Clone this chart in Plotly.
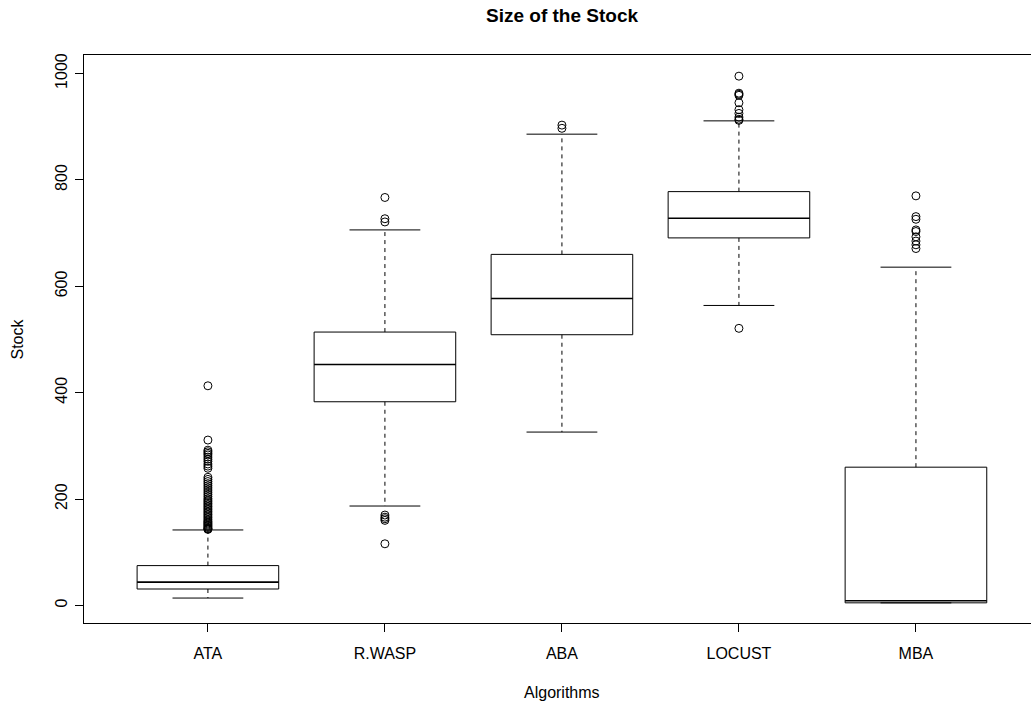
import plotly.graph_objects as go

# Summary statistics per algorithm (Tukey boxplot)
algorithms = ["ATA", "R.WASP", "ABA", "LOCUST", "MBA"]
lower_whisker = [14, 187, 326, 564, 5]
q1 = [31, 383, 509, 691, 5]
median = [44, 453, 577, 728, 9]
q3 = [75, 514, 660, 778, 260]
upper_whisker = [142, 706, 886, 911, 636]

outliers_ata = [413, 311, 292, 289, 286, 283, 279, 275, 271, 266, 262, 258,
                241, 237, 233, 229, 225, 221, 217, 213, 209, 205, 201, 198,
                195, 192, 189, 186, 183, 180, 177, 174, 171, 168, 165, 162,
                159, 157, 155, 153, 151, 149, 147, 145, 144, 143]
outliers_rwasp = [767, 727, 721, 170, 166, 163, 160, 116]
outliers_aba = [903, 897]
outliers_locust = [995, 963, 961, 959, 945, 932, 925, 918, 914, 912, 521]
outliers_mba = [770, 731, 726, 706, 703, 693, 685, 678, 671]
outliers = [outliers_ata, outliers_rwasp, outliers_aba, outliers_locust, outliers_mba]

y_ticks = [0, 200, 400, 600, 800, 1000]

BOX_HALF = 0.4      # boxwex 0.8
STAPLE_HALF = 0.2   # staples half as wide as the box
LINE = dict(color="black", width=1)

fig = go.Figure()

for i, name in enumerate(algorithms):
    x = i + 1
    # box body
    fig.add_trace(go.Scatter(
        x=[x - BOX_HALF, x + BOX_HALF, x + BOX_HALF, x - BOX_HALF, x - BOX_HALF],
        y=[q1[i], q1[i], q3[i], q3[i], q1[i]],
        mode="lines", line=LINE, hoverinfo="skip", showlegend=False))
    # median
    fig.add_trace(go.Scatter(
        x=[x - BOX_HALF, x + BOX_HALF], y=[median[i], median[i]],
        mode="lines", line=dict(color="black", width=1.6),
        hoverinfo="skip", showlegend=False))
    # dashed whiskers
    for a, b in ((q3[i], upper_whisker[i]), (q1[i], lower_whisker[i])):
        fig.add_trace(go.Scatter(
            x=[x, x], y=[a, b], mode="lines",
            line=dict(color="black", width=1, dash="4px,4px"),
            hoverinfo="skip", showlegend=False))
    # staples
    for w in (upper_whisker[i], lower_whisker[i]):
        fig.add_trace(go.Scatter(
            x=[x - STAPLE_HALF, x + STAPLE_HALF], y=[w, w],
            mode="lines", line=LINE, hoverinfo="skip", showlegend=False))
    # outlying points
    fig.add_trace(go.Scatter(
        x=[x] * len(outliers[i]), y=outliers[i], mode="markers",
        marker=dict(symbol="circle-open", size=8, color="black",
                    line=dict(width=1, color="black")),
        name=name, showlegend=False))

font = dict(family="Liberation Sans, Arial, sans-serif", color="black")

fig.update_layout(
    width=1031, height=703,
    margin=dict(l=84, r=0, t=55, b=80),
    paper_bgcolor="white", plot_bgcolor="white",
    font=dict(size=16, **font),
    showlegend=False,
    xaxis=dict(
        range=[0.3, 5.65], tickmode="array",
        tickvals=[1, 2, 3, 4, 5], ticktext=algorithms,
        ticks="outside", ticklen=8, tickcolor="black", tickwidth=1,
        showline=True, linecolor="black", linewidth=1, mirror=True,
        showgrid=False, zeroline=False,
        tickfont=dict(size=16, **font), ticklabelstandoff=8,
    ),
    yaxis=dict(
        range=[-32.9, 1034.8], tickmode="array", tickvals=y_ticks,
        ticktext=[str(v) for v in y_ticks], tickangle=-90,
        ticks="outside", ticklen=8, tickcolor="black", tickwidth=1,
        showline=True, linecolor="black", linewidth=1, mirror=False,
        showgrid=False, zeroline=False,
        tickfont=dict(size=16, **font), ticklabelstandoff=2,
    ),
    annotations=[
        dict(text="<b>Size of the Stock</b>", x=3, xref="x",
             y=1 + 40 / 568, yref="paper", yanchor="middle",
             showarrow=False, font=dict(size=19, **font)),
        dict(text="Algorithms", x=3, xref="x", y=0, yref="paper",
             yshift=-69, yanchor="middle", showarrow=False,
             font=dict(size=16, **font)),
        dict(text="Stock", x=0, xref="paper", xshift=-66, y=500, yref="y",
             textangle=-90, xanchor="center", showarrow=False,
             font=dict(size=16, **font)),
    ],
)

fig.write_html("out.html")
